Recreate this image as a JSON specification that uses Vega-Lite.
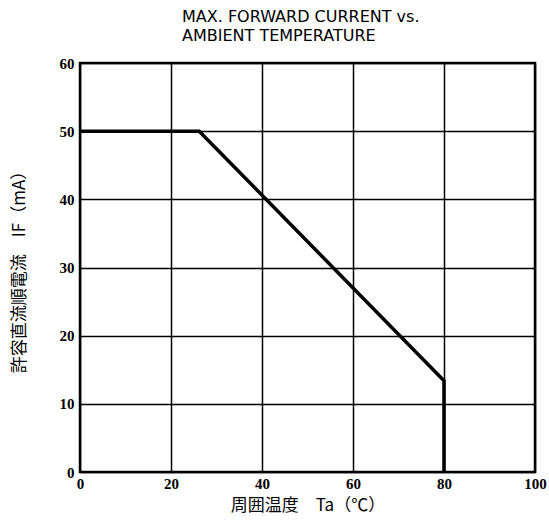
{
  "$schema": "https://vega.github.io/schema/vega-lite/v6.json",
  "autosize": {"type": "none"},
  "padding": {"left": 80, "top": 63, "right": 14, "bottom": 53},
  "width": 455,
  "height": 409,
  "background": "white",
  "title": {
    "text": ["MAX. FORWARD CURRENT vs.", "AMBIENT TEMPERATURE"],
    "anchor": "start",
    "frame": "group",
    "dx": 102,
    "offset": 12,
    "font": "DejaVu Sans",
    "fontSize": 16,
    "fontWeight": "normal",
    "lineHeight": 19,
    "color": "black"
  },
  "config": {
    "view": {"stroke": "black", "strokeWidth": 2.5},
    "axis": {
      "grid": true,
      "gridColor": "black",
      "gridWidth": 1.5,
      "gridOpacity": 1,
      "domain": false,
      "ticks": false,
      "labelFont": "Liberation Serif",
      "labelFontWeight": "bold",
      "labelFontSize": 15,
      "labelColor": "black",
      "titleFont": "Noto Sans CJK JP",
      "titleFontWeight": "normal",
      "titleFontSize": 17,
      "titleColor": "black"
    }
  },
  "data": {
    "values": [
      {"t": 0, "i": 50},
      {"t": 26.2, "i": 50},
      {"t": 80, "i": 13.4},
      {"t": 80, "i": 0}
    ]
  },
  "mark": {"type": "line", "color": "black", "strokeWidth": 3.5, "strokeJoin": "miter", "clip": true},
  "encoding": {
    "x": {
      "field": "t",
      "type": "quantitative",
      "scale": {"domain": [0, 100], "nice": false},
      "axis": {"values": [0, 20, 40, 60, 80, 100], "labelPadding": 4, "title": "周囲温度　Ta（℃）", "titlePadding": 6, "labelFlush": false}
    },
    "y": {
      "field": "i",
      "type": "quantitative",
      "scale": {"domain": [0, 60], "nice": false},
      "axis": {"values": [0, 10, 20, 30, 40, 50, 60], "labelPadding": 6, "title": "許容直流順電流　IF（mA）", "titlePadding": 31, "labelFlush": false}
    },
    "order": {"field": "t", "type": "quantitative"}
  }
}
